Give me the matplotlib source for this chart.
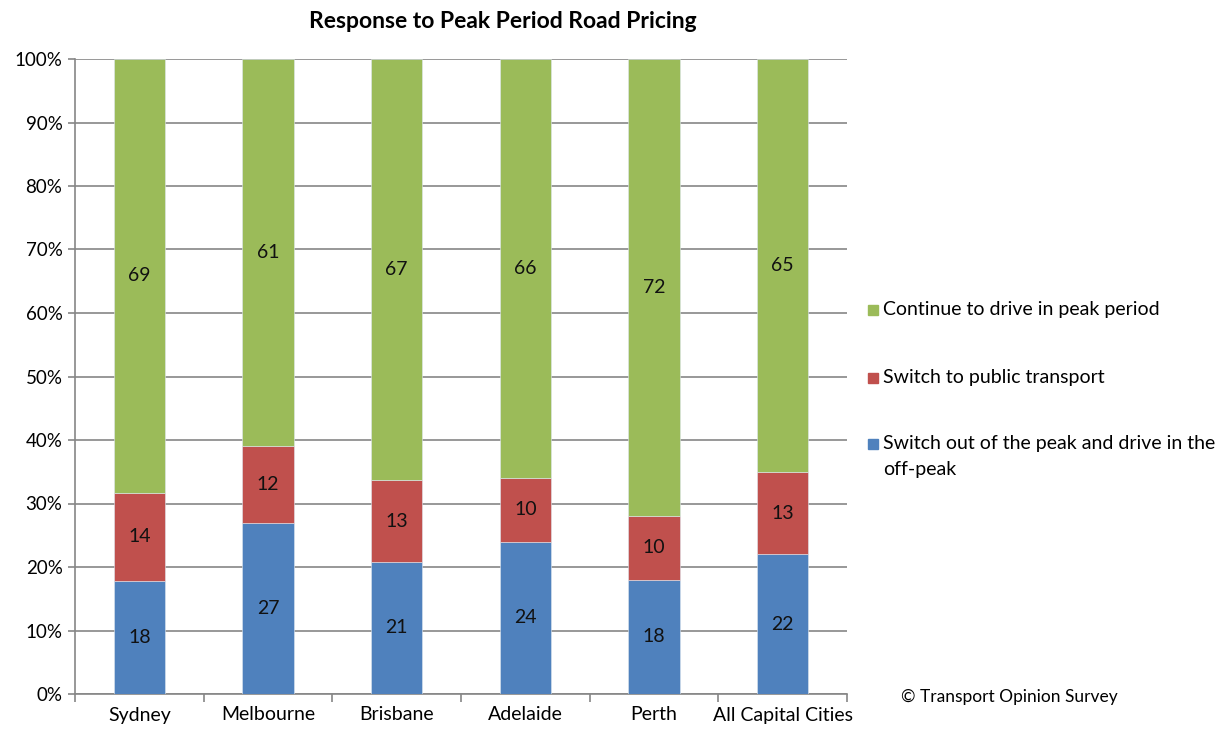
import numpy as np
import matplotlib
matplotlib.use("Agg")
import matplotlib.pyplot as plt
from matplotlib.patches import Rectangle

cities = ["Sydney", "Melbourne", "Brisbane", "Adelaide", "Perth", "All Capital Cities"]
offpeak = [18, 27, 21, 24, 18, 22]
public = [14, 12, 13, 10, 10, 13]
drive = [69, 61, 67, 66, 72, 65]
series_names = ["Switch out of the peak and drive in the\noff-peak",
                "Switch to public transport",
                "Continue to drive in peak period"]
colors = ["#4F81BD", "#C0504D", "#9BBB59"]

plt.rcParams['font.family'] = ['Lato', 'DejaVu Sans']

W, H = 1227, 733
fig = plt.figure(figsize=(W / 100, H / 100), dpi=100)
ax = fig.add_axes([75 / W, 1 - 694 / H, 772 / W, 635 / H])

data = np.array([offpeak, public, drive], dtype=float)
totals = data.sum(axis=0)
pct = data / totals * 100
x = np.arange(len(cities))
bottom = np.zeros(len(cities))
for i in range(3):
    ax.bar(x, pct[i], 0.4, bottom=bottom, color=colors[i], zorder=3,
           edgecolor="#dfe7f0", linewidth=0.4)
    for j in range(len(cities)):
        ax.text(x[j], bottom[j] + pct[i][j] / 2, str(int(data[i][j])),
                ha="center", va="center", fontsize=14, color="#111111", zorder=4)
    bottom += pct[i]

ax.set_xlim(-0.5, len(cities) - 0.5)
ax.set_ylim(0, 100)
ax.set_yticks(np.arange(0, 101, 10))
ax.set_yticklabels([f"{v}%" for v in range(0, 101, 10)])
ax.yaxis.grid(True, color="#868686", linewidth=1.2, zorder=0)
ax.set_xticks(x)
ax.set_xticklabels(cities)
ax.set_xticks(np.arange(-0.5, len(cities), 1), minor=True)
ax.tick_params(axis="x", which="major", length=0, labelsize=14, pad=9)
ax.tick_params(axis="x", which="minor", length=6, color="#868686", width=1.2)
ax.tick_params(axis="y", length=5, color="#868686", width=1.2, labelsize=13.5, pad=4)
for s in ["top", "right"]:
    ax.spines[s].set_visible(False)
for s in ["left", "bottom"]:
    ax.spines[s].set_color("#868686")
    ax.spines[s].set_linewidth(1.2)

# legend, drawn by hand so the square sits on the first line of each entry
leg_y = [310, 378, 444]
for name, col, yy in zip(series_names[::-1], colors[::-1], leg_y):
    fig.add_artist(Rectangle((868 / W, 1 - (yy + 5) / H), 10 / W, 10 / H,
                             transform=fig.transFigure, color=col))
    fig.text(883 / W, 1 - (yy - 9) / H, name, ha="left", va="top",
             fontsize=14, linespacing=1.65)

fig.text(503 / W, 1 - 22 / H, "Response to Peak Period Road Pricing",
         ha="center", va="center", fontsize=16.5, fontweight="bold")
fig.text(901 / W, 1 - 697 / H, "\u00a9 Transport Opinion Survey",
         ha="left", va="center", fontsize=12.5)

fig.savefig("out.png", dpi=100)
